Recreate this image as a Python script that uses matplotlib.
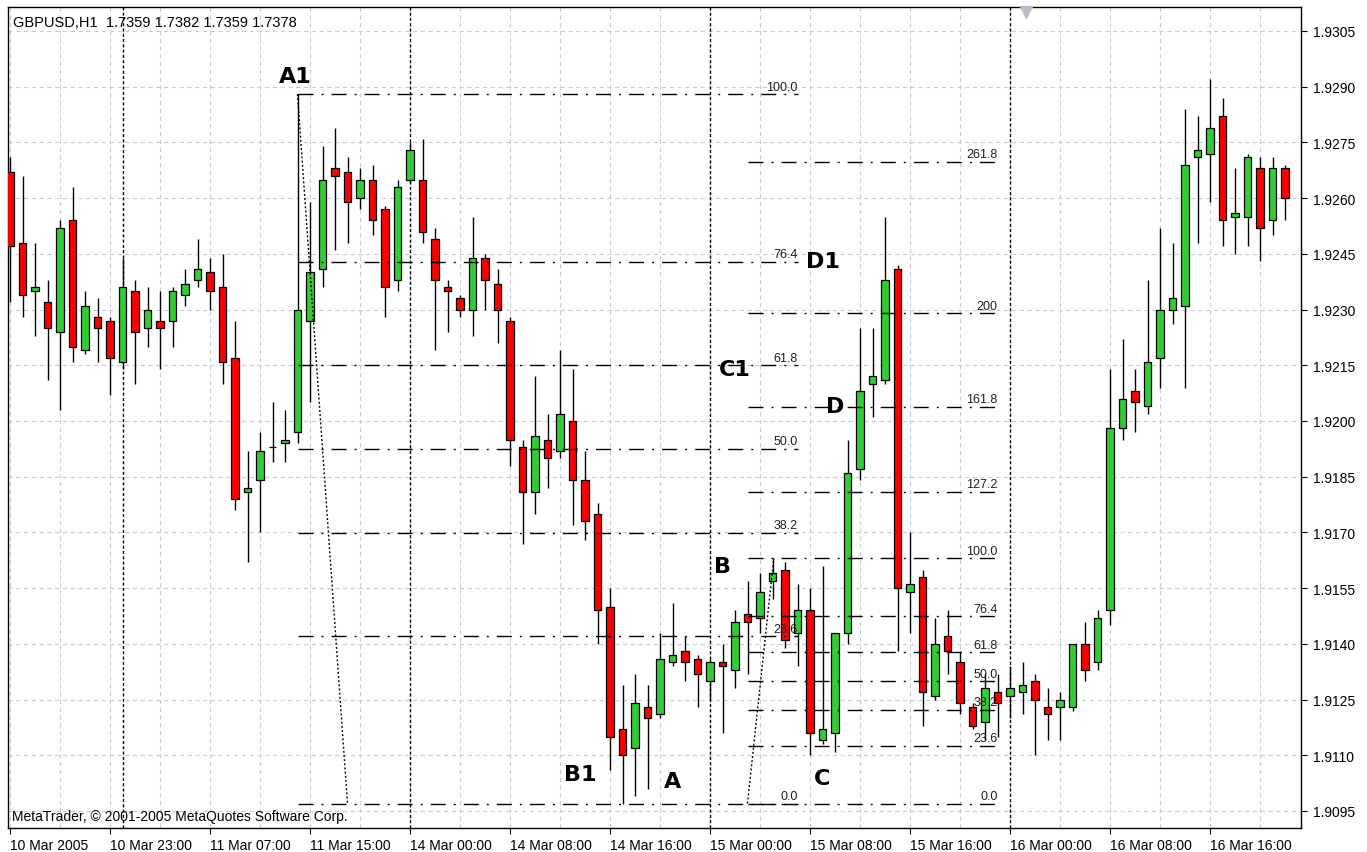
import matplotlib
matplotlib.use('Agg')
import matplotlib.pyplot as plt
from matplotlib.patches import Rectangle

plt.rcParams['lines.scale_dashes'] = False
plt.rcParams['font.family'] = ['Liberation Sans', 'DejaVu Sans']

# ---------------- data (GBPUSD H1, bars from 10 Mar 2005 15:00) ----------------
opens = [1.9267, 1.9248, 1.9235, 1.9232, 1.9224, 1.9254, 1.9219, 1.9228, 1.9227, 1.9216,
         1.9235, 1.9225, 1.9227, 1.9227, 1.9234, 1.9238, 1.9240, 1.9236, 1.9217, 1.9181,
         1.9184, 1.9193, 1.9194, 1.9197, 1.9227, 1.9241, 1.9268, 1.9267, 1.9260, 1.9265,
         1.9257, 1.9238, 1.9265, 1.9265, 1.9249, 1.9236, 1.9233, 1.9230, 1.9244, 1.9237,
         1.9227, 1.9193, 1.9181, 1.9195, 1.9192, 1.9200, 1.9184, 1.9175, 1.9150, 1.9117,
         1.9112, 1.9123, 1.9121, 1.9135, 1.9138, 1.9136, 1.9130, 1.9135, 1.9133, 1.9148,
         1.9147, 1.9157, 1.9160, 1.9143, 1.9149, 1.9114, 1.9116, 1.9143, 1.9187, 1.9210,
         1.9211, 1.9241, 1.9154, 1.9158, 1.9126, 1.9142, 1.9135, 1.9123, 1.9119, 1.9127,
         1.9126, 1.9127, 1.9130, 1.9123, 1.9123, 1.9123, 1.9140, 1.9135, 1.9149, 1.9198,
         1.9208, 1.9204, 1.9217, 1.9230, 1.9231, 1.9271, 1.9272, 1.9282, 1.9255, 1.9255,
         1.9268, 1.9254, 1.9268]
highs = [1.9271, 1.9266, 1.9248, 1.9238, 1.9254, 1.9263, 1.9235, 1.9233, 1.9228, 1.9244,
         1.9238, 1.9236, 1.9235, 1.9236, 1.9241, 1.9249, 1.9244, 1.9245, 1.9227, 1.9192,
         1.9197, 1.9205, 1.9203, 1.9288, 1.9259, 1.9274, 1.9279, 1.9271, 1.9268, 1.9269,
         1.9258, 1.9265, 1.9275, 1.9276, 1.9252, 1.9238, 1.9234, 1.9255, 1.9245, 1.9241,
         1.9228, 1.9195, 1.9212, 1.9202, 1.9219, 1.9214, 1.9192, 1.9178, 1.9155, 1.9129,
         1.9132, 1.9129, 1.9143, 1.9151, 1.9142, 1.9137, 1.9136, 1.9140, 1.9149, 1.9157,
         1.9159, 1.9163, 1.9162, 1.9156, 1.9155, 1.9161, 1.9143, 1.9195, 1.9225, 1.9225,
         1.9255, 1.9242, 1.9170, 1.9160, 1.9147, 1.9149, 1.9138, 1.9124, 1.9132, 1.9132,
         1.9134, 1.9135, 1.9132, 1.9128, 1.9127, 1.9140, 1.9146, 1.9149, 1.9214, 1.9222,
         1.9214, 1.9238, 1.9252, 1.9248, 1.9284, 1.9282, 1.9292, 1.9287, 1.9268, 1.9272,
         1.9271, 1.9271, 1.9269]
lows = [1.9232, 1.9228, 1.9223, 1.9211, 1.9203, 1.9216, 1.9218, 1.9216, 1.9207, 1.9214,
        1.9210, 1.9220, 1.9214, 1.9220, 1.9231, 1.9236, 1.9230, 1.9210, 1.9176, 1.9162,
        1.9170, 1.9189, 1.9189, 1.9194, 1.9205, 1.9236, 1.9246, 1.9248, 1.9257, 1.9250,
        1.9228, 1.9235, 1.9264, 1.9248, 1.9219, 1.9224, 1.9228, 1.9223, 1.9230, 1.9221,
        1.9188, 1.9167, 1.9175, 1.9182, 1.9190, 1.9172, 1.9168, 1.9140, 1.9106, 1.9097,
        1.9099, 1.9101, 1.9120, 1.9134, 1.9130, 1.9123, 1.9125, 1.9116, 1.9128, 1.9132,
        1.9143, 1.9152, 1.9139, 1.9134, 1.9110, 1.9113, 1.9111, 1.9140, 1.9184, 1.9201,
        1.9210, 1.9138, 1.9143, 1.9118, 1.9125, 1.9132, 1.9121, 1.9117, 1.9114, 1.9115,
        1.9120, 1.9121, 1.9110, 1.9114, 1.9114, 1.9122, 1.9130, 1.9133, 1.9145, 1.9195,
        1.9197, 1.9202, 1.9209, 1.9226, 1.9209, 1.9248, 1.9259, 1.9247, 1.9245, 1.9247,
        1.9243, 1.9250, 1.9254]
closes = [1.9247, 1.9234, 1.9236, 1.9225, 1.9252, 1.9220, 1.9231, 1.9225, 1.9217, 1.9236,
          1.9224, 1.9230, 1.9225, 1.9235, 1.9237, 1.9241, 1.9235, 1.9216, 1.9179, 1.9182,
          1.9192, 1.9193, 1.9195, 1.9230, 1.9240, 1.9265, 1.9266, 1.9259, 1.9265, 1.9254,
          1.9236, 1.9263, 1.9273, 1.9251, 1.9238, 1.9235, 1.9230, 1.9244, 1.9238, 1.9230,
          1.9195, 1.9181, 1.9196, 1.9190, 1.9202, 1.9184, 1.9173, 1.9149, 1.9115, 1.9110,
          1.9124, 1.9120, 1.9136, 1.9137, 1.9135, 1.9132, 1.9135, 1.9134, 1.9146, 1.9146,
          1.9154, 1.9159, 1.9141, 1.9149, 1.9116, 1.9117, 1.9143, 1.9186, 1.9208, 1.9212,
          1.9238, 1.9155, 1.9156, 1.9127, 1.9140, 1.9138, 1.9124, 1.9118, 1.9128, 1.9124,
          1.9128, 1.9129, 1.9125, 1.9121, 1.9125, 1.9140, 1.9133, 1.9147, 1.9198, 1.9206,
          1.9205, 1.9216, 1.9230, 1.9233, 1.9269, 1.9273, 1.9279, 1.9254, 1.9256, 1.9271,
          1.9252, 1.9268, 1.9260]

time_tick_bars = [0, 8, 16, 24, 32, 40, 48, 56, 64, 72, 80, 88, 96]
time_tick_labels = ['10 Mar 2005', '10 Mar 23:00', '11 Mar 07:00', '11 Mar 15:00',
                    '14 Mar 00:00', '14 Mar 08:00', '14 Mar 16:00', '15 Mar 00:00',
                    '15 Mar 08:00', '15 Mar 16:00', '16 Mar 00:00', '16 Mar 08:00',
                    '16 Mar 16:00']
price_ticks = [1.9095, 1.9110, 1.9125, 1.9140, 1.9155, 1.9170, 1.9185, 1.9200,
               1.9215, 1.9230, 1.9245, 1.9260, 1.9275, 1.9290, 1.9305]
day_separator_bars = [9, 32, 56, 80]

# Fibonacci objects
fib1_high, fib1_low = 1.9288, 1.9097          # A1 -> B1
fib1_levels = [0.0, 23.6, 38.2, 50.0, 61.8, 76.4, 100.0]
fib1_labels = ['0.0', '23.6', '38.2', '50.0', '61.8', '76.4', '100.0']
fib2_low, fib2_high = 1.9097, 1.9163          # A -> B
fib2_levels = [0.0, 23.6, 38.2, 50.0, 61.8, 76.4, 100.0, 127.2, 161.8, 200.0, 261.8]
fib2_labels = ['0.0', '23.6', '38.2', '50.0', '61.8', '76.4', '100.0', '127.2', '161.8', '200', '261.8']

wave_text = ['A1', 'B1', 'C1', 'D1', 'A', 'B', 'C', 'D']
wave_bar = [22.8, 45.6, 58.0, 65.0, 53.0, 57.0, 65.0, 66.0]
wave_price = [1.9293, 1.9105, 1.9214, 1.9243, 1.9103, 1.9161, 1.9104, 1.9204]

# ---------------- figure ----------------
W, H = 1367, 853
fig = plt.figure(figsize=(W / 100, H / 100), dpi=100)
fig.patch.set_facecolor('white')
L, R, T, B = 8, 1301, 8, 829
ax = fig.add_axes([L / W, (H - B) / H, (R - L) / W, (B - T) / H])
ax.set_facecolor('white')

ax.set_xlim(-0.16, 103.28)
ax.set_ylim(1.909042, 1.931146)

grid_col = '#c5cad3'
grid_ls = (0, (3.0, 2.6))
for b in range(0, len(opens), 4):
    ax.axvline(b, color=grid_col, lw=0.8, ls=grid_ls, zorder=0.5)
for p in price_ticks:
    ax.axhline(p, color=grid_col, lw=0.8, ls=grid_ls, zorder=0.5)

for b in day_separator_bars:
    ax.axvline(b, color='black', lw=1.0, ls=(0, (2.2, 1.6)), zorder=1)

# candles
bw = 0.58
for i, (o, h, l, c) in enumerate(zip(opens, highs, lows, closes)):
    ax.vlines(i, l, h, color='black', lw=1.0, zorder=2)
    if c > o:
        fc = '#32cd32'
    elif c < o:
        fc = '#ff0000'
    else:
        fc = 'black'
    ax.add_patch(Rectangle((i - bw / 2, min(o, c)), bw, abs(c - o),
                           facecolor=fc, edgecolor='black', lw=0.9, zorder=3))

# Fibonacci lines
fib_ls = (0, (10.8, 5.8, 1.4, 5.8))
def draw_fib(low, high, levels, labels, x0, x1):
    for lv, lab in zip(levels, labels):
        p = low + lv / 100.0 * (high - low)
        ax.plot([x0, x1], [p, p], color='black', lw=1.0, ls=fib_ls, zorder=4)
        ax.text(x1, p + 0.00004, lab, ha='right', va='bottom', fontsize=9,
                color='#202020', zorder=5)

draw_fib(fib1_low, fib1_high, fib1_levels, fib1_labels, 23, 63)
draw_fib(fib2_low, fib2_high, fib2_levels, fib2_labels, 59, 79)

ax.plot([23, 27], [fib1_high, fib1_low], color='black', lw=1.0, ls=(0, (1.4, 1.6)), zorder=4)
ax.plot([59, 61.1], [fib2_low, fib2_high], color='black', lw=1.0, ls=(0, (1.4, 1.6)), zorder=4)

for t, xb, yp in zip(wave_text, wave_bar, wave_price):
    ax.text(xb, yp, t, ha='center', va='center', fontsize=16, fontweight='bold',
            family='DejaVu Sans', color='black', zorder=6)

# texts
ax.text(0.004, 0.982, 'GBPUSD,H1  1.7359 1.7382 1.7359 1.7378', transform=ax.transAxes,
        ha='left', va='center', fontsize=10.5, color='black', zorder=6)
ax.text(0.003, 0.0146, 'MetaTrader, \u00a9 2001-2005 MetaQuotes Software Corp.',
        transform=ax.transAxes, ha='left', va='center', fontsize=10, color='black', zorder=6)

# chart shift marker
ax.plot([0.7873], [0.9945], marker='v', markersize=8, color='#b8bec8',
        transform=ax.transAxes, clip_on=False, zorder=6)

# axes
for s in ax.spines.values():
    s.set_color('black')
    s.set_linewidth(1.0)
ax.yaxis.tick_right()
ax.set_yticks(price_ticks)
ax.set_yticklabels(['%.4f' % p for p in price_ticks])
ax.set_xticks(time_tick_bars)
ax.set_xticklabels(time_tick_labels, ha='left')
ax.tick_params(axis='y', direction='out', length=4, width=0.8, pad=5, labelsize=10)
ax.tick_params(axis='x', direction='out', length=4, width=0.8, pad=3, labelsize=10)
for lab in ax.get_xticklabels():
    lab.set_horizontalalignment('left')

fig.savefig('out.png', dpi=100, facecolor='white')
